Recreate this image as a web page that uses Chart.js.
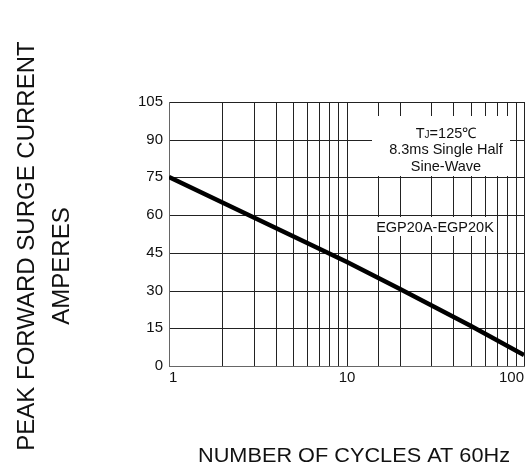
<!DOCTYPE html>
<html>
<head>
<meta charset="utf-8">
<script src="https://cdn.jsdelivr.net/npm/chart.js@4.4.0/dist/chart.umd.min.js"></script>
<style>
  body { margin: 0; background: #fff; }
  #wrap { width: 531px; height: 469px; }
</style>
</head>
<body>
<div id="wrap"><canvas id="surge-chart"></canvas></div>
<script>
// values
const cycles = [1, 10, 20, 50, 100];
const surgeCurrent = [75, 41.5, 30.5, 16, 4.5];
const yTicks = [0, 15, 30, 45, 60, 75, 90, 105];
const xLabels = [1, 10, 100];

const noteLines = ["8.3ms Single Half", "Sine-Wave"];
const partLabel = "EGP20A-EGP20K";

const FONT = "'Liberation Sans', Arial, sans-serif";

// white boxes behind the notes, in data units
const noteBoxes = [
    { x0: 14, x1: 83.4, y0: 75.6, y1: 99.4 },
    { x0: 14.5, x1: 67.8, y0: 51.7, y1: 59.3 }
];

const notesPlugin = {
    id: "notes",
    beforeDatasetsDraw(chart) {
        const ctx = chart.ctx;
        const xs = chart.scales.x;
        const ys = chart.scales.y;

        ctx.save();
        ctx.fillStyle = "#fff";
        noteBoxes.forEach(b => {
            const left = xs.getPixelForValue(b.x0);
            const right = xs.getPixelForValue(b.x1);
            const top = ys.getPixelForValue(b.y1);
            const bottom = ys.getPixelForValue(b.y0);
            ctx.fillRect(left, top, right - left, bottom - top);
        });

        ctx.fillStyle = "#111";
        ctx.textBaseline = "middle";

        // TJ=125℃ with a small subscript J
        const cx = xs.getPixelForValue(36.5);
        const cy = ys.getPixelForValue(86);
        const big = "14.5px " + FONT;
        const small = "10px " + FONT;
        ctx.font = big;
        const wT = ctx.measureText("T").width;
        const wRest = ctx.measureText("=125℃").width;
        ctx.font = small;
        const wJ = ctx.measureText("J").width;
        let px = cx - (wT + wJ + wRest) / 2;
        const ty = cy - 16.5;
        ctx.textAlign = "left";
        ctx.font = big;
        ctx.fillText("T", px, ty);
        px += wT;
        ctx.font = small;
        ctx.fillText("J", px, ty + 2);
        px += wJ;
        ctx.font = big;
        ctx.fillText("=125℃", px, ty);

        ctx.textAlign = "center";
        noteLines.forEach((line, i) => {
            ctx.fillText(line, cx, cy + i * 16.5);
        });

        ctx.fillText(partLabel, xs.getPixelForValue(31.5), ys.getPixelForValue(54.9));
        ctx.restore();
    },
    afterDraw(chart) {
        const ctx = chart.ctx;
        ctx.save();
        ctx.fillStyle = "#111";
        ctx.textAlign = "center";
        ctx.textBaseline = "middle";

        // y axis title, two lines
        ctx.font = "24px " + FONT;
        ctx.save();
        ctx.translate(27, 246);
        ctx.rotate(-Math.PI / 2);
        ctx.fillText("PEAK FORWARD SURGE CURRENT", 0, 0);
        ctx.restore();
        ctx.save();
        ctx.translate(62, 266);
        ctx.rotate(-Math.PI / 2);
        ctx.fillText("AMPERES", 0, 0);
        ctx.restore();

        // x axis title, narrow like the original
        ctx.font = "20px " + FONT;
        const title = "NUMBER OF CYCLES AT 60Hz";
        const w = ctx.measureText(title).width;
        ctx.translate(354, 456);
        ctx.scale(312 / w, 1);
        ctx.fillText(title, 0, 0);
        ctx.restore();
    }
};

const ctx = document.getElementById("surge-chart").getContext("2d");

new Chart(ctx, {
    type: "line",
    data: {
        datasets: [{
            data: cycles.map((c, i) => ({ x: c, y: surgeCurrent[i] })),
            borderColor: "#000",
            borderWidth: 4.5,
            pointRadius: 0,
            tension: 0,
            fill: false
        }]
    },
    options: {
        responsive: true,
        maintainAspectRatio: false,
        animation: false,
        layout: {
            padding: { top: 102, right: 7, left: 0, bottom: 0 }
        },
        plugins: {
            legend: { display: false },
            tooltip: { enabled: false }
        },
        scales: {
            x: {
                type: "logarithmic",
                min: 1,
                max: 100,
                alignToPixels: true,
                grid: {
                    color: "#222",
                    lineWidth: 1,
                    drawTicks: false
                },
                border: { color: "#666", width: 1 },
                ticks: {
                    autoSkip: false,
                    maxRotation: 0,
                    align: "inner",
                    padding: 3,
                    color: "#111",
                    font: { family: FONT, size: 15 },
                    callback: function(value) {
                        return xLabels.includes(value) ? String(value) : "";
                    }
                },
                afterFit: function(scale) {
                    scale.height = 103;
                }
            },
            y: {
                min: 0,
                max: 105,
                alignToPixels: true,
                afterBuildTicks: function(axis) {
                    axis.ticks = yTicks.map(v => ({ value: v }));
                },
                grid: {
                    color: "#222",
                    lineWidth: 1,
                    drawTicks: false
                },
                border: { color: "#666", width: 1 },
                ticks: {
                    padding: 6,
                    color: "#111",
                    font: { family: FONT, size: 15 }
                },
                afterFit: function(scale) {
                    scale.width = 169;
                }
            }
        }
    },
    plugins: [notesPlugin]
});
</script>
</body>
</html>
